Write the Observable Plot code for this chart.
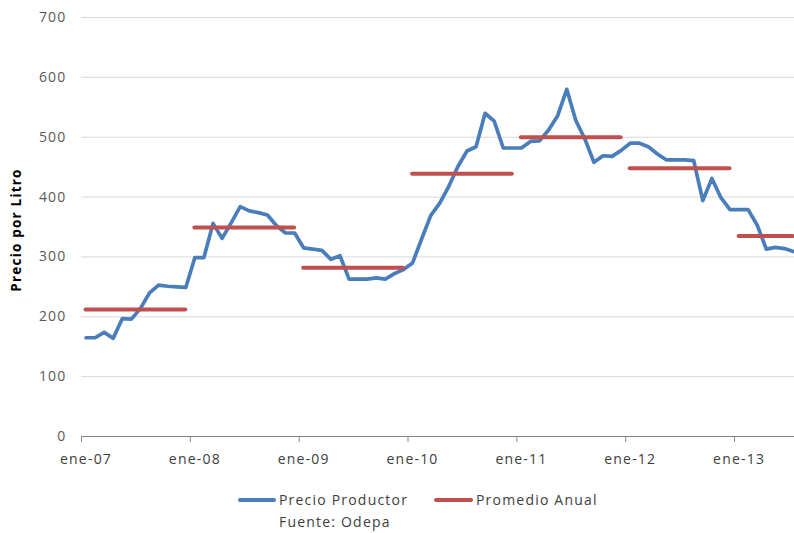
<!DOCTYPE html>
<html>
<head>
<meta charset="utf-8">
<script src="https://cdn.jsdelivr.net/npm/d3@7"></script>
<script src="https://cdn.jsdelivr.net/npm/@observablehq/plot@0.6"></script>
<style>
  html, body { margin: 0; padding: 0; background: #fff; }
  #wrap { position: relative; width: 794px; height: 533px; overflow: hidden; font-family: "Open Sans", sans-serif; }
  #wrap svg { position: absolute; left: 0; top: 0; }
  #wrap svg text { letter-spacing: 1.2px; }
  .lg-line { position: absolute; height: 4px; border-radius: 2px; }
  .lg-text { position: absolute; font-size: 14px; letter-spacing: 1.2px; color: #404040; line-height: 18px; white-space: nowrap; }
</style>
</head>
<body>
<div id="wrap"></div>
<script>
// Precio pagado a productor (monthly, ene-07 .. jul-13), $ por litro
const years = [2007, 2008, 2009, 2010, 2011, 2012, 2013];
const yearLabels = ["ene-07", "ene-08", "ene-09", "ene-10", "ene-11", "ene-12", "ene-13"];
const precioProductor = [
  165, 165, 174, 164, 197, 196, 214, 240, 253, 251, 250, 249, // 2007
  299, 299, 356, 331, 357, 384, 377, 374, 370, 352, 340, 340, // 2008
  315, 313, 311, 296, 302, 263, 263, 263, 265, 263, 272, 279, // 2009
  290, 330, 369, 390, 418, 451, 477, 484, 540, 527, 482, 482, // 2010
  482, 493, 494, 512, 536, 580, 528, 497, 458, 469, 468, 478, // 2011
  490, 490, 484, 472, 462, 462, 462, 461, 394, 431, 399, 379, // 2012
  379, 379, 353, 313, 316, 314, 309                           // 2013
];
const promedioAnual = [212, 349, 282, 439, 500, 448, 335];
const yTicks = [0, 100, 200, 300, 400, 500, 600, 700];

const blue = "#4a7ebb";
const red = "#c0504d";

// month index i sits in the middle of its month slot
const monthly = precioProductor.map((v, i) => ({x: i + 0.5, y: v}));
const averages = years.map((yr, k) => {
  const n = Math.min(12, precioProductor.length - 12 * k);
  return {year: yr, y: promedioAnual[k], x1: 12 * k + 0.5, x2: 12 * k + n - 0.5};
});
const yearStarts = years.map((_, k) => 12 * k);
const labelPos = years.map((_, k) => 12 * k + 0.5);

const chart = Plot.plot({
  width: 794,
  height: 470,
  marginLeft: 81,
  marginRight: 0,
  marginTop: 17,
  marginBottom: 34,
  style: {fontFamily: "Open Sans, sans-serif", background: "#fff", overflow: "visible"},
  x: {type: "linear", domain: [0, 78.61], axis: null},
  y: {domain: [0, 700], axis: null},
  marks: [
    Plot.gridY(yTicks.filter(d => d > 0), {stroke: "#d9d9d9", strokeOpacity: 1, strokeWidth: 1}),
    Plot.axisY(yTicks, {tickSize: 0, tickPadding: 15, fontSize: 14, fill: "#595959", label: null}),
    Plot.text(["Precio por Litro"], {frameAnchor: "left", textAnchor: "middle", rotate: -90, dx: -65, dy: 3,
      fontSize: 13.5, fontWeight: "bold", fill: "#000"}),
    Plot.ruleY([0], {stroke: "#868686", strokeWidth: 1}),
    Plot.axisX(yearStarts, {tickSize: 6, stroke: "#868686", tickFormat: () => "", label: null}),
    Plot.axisX(labelPos, {tickSize: 0, tickPadding: 18, fontSize: 14, fill: "#404040", label: null,
      tickFormat: d => yearLabels[Math.round((d - 0.5) / 12)]}),
    Plot.line(monthly, {x: "x", y: "y", stroke: blue, strokeWidth: 3.7, strokeLinejoin: "round", strokeLinecap: "round"}),
    Plot.ruleY(averages, {y: "y", x1: "x1", x2: "x2", stroke: red, strokeWidth: 4, strokeLinecap: "round"})
  ]
});

const wrap = document.getElementById("wrap");
wrap.appendChild(chart);

// legend and source below the chart
function add(cls, style, text) {
  const el = document.createElement("div");
  el.className = cls;
  Object.assign(el.style, style);
  if (text) el.textContent = text;
  wrap.appendChild(el);
}
add("lg-line", {left: "238px", top: "498px", width: "38px", background: blue});
add("lg-text", {left: "279px", top: "491px"}, "Precio Productor");
add("lg-line", {left: "434px", top: "498px", width: "39px", background: red});
add("lg-text", {left: "476px", top: "491px"}, "Promedio Anual");
add("lg-text", {left: "279px", top: "513px"}, "Fuente: Odepa");
</script>
</body>
</html>
